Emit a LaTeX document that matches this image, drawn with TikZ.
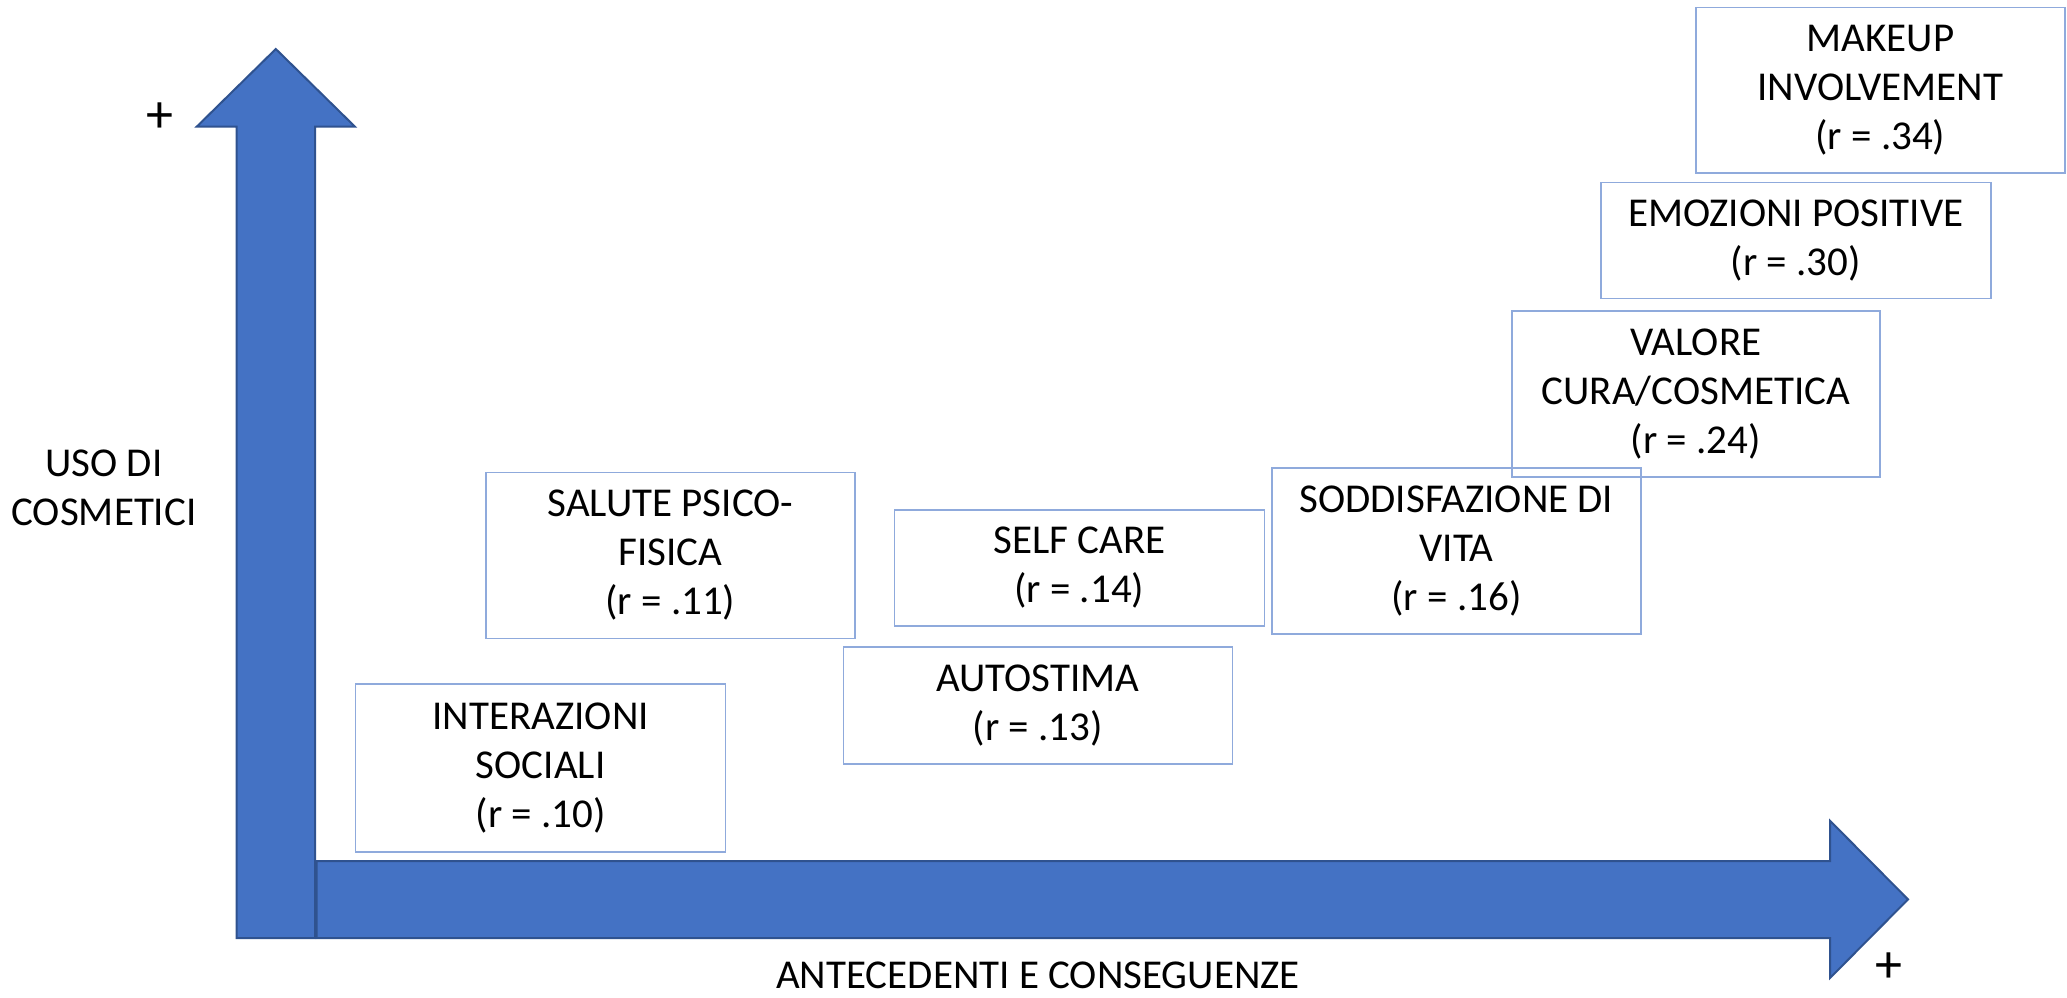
\documentclass[tikz,border=0pt]{standalone}
\usepackage{fontspec}
\setmainfont{Carlito}
\definecolor{boxblue}{HTML}{8FAADC}
\definecolor{arrowfill}{HTML}{4472C4}
\definecolor{arrowline}{HTML}{2F528F}
\begin{document}
\begin{tikzpicture}[x=1pt,y=-1pt,
  lbl/.style={font=\fontsize{41}{49}\selectfont, align=center, text=black, inner sep=0pt},
  plus/.style={font=\fontsize{54}{54}\selectfont, text=black, inner sep=0pt},
  item/.style={lbl, draw=boxblue, line width=1.5pt},
  bigarrow/.style={fill=arrowfill, draw=arrowline, line width=2pt, line join=miter}]
\useasboundingbox (0,0) rectangle (2067,998);
% vertical arrow
\draw[bigarrow] (275.8,49) -- (355,126.7) -- (315,126.7) -- (315,938) -- (236.7,938)
  -- (236.7,126.7) -- (196.7,126.7) -- cycle;
% horizontal arrow
\draw[bigarrow] (316.5,861) -- (1830,861) -- (1830,820.7) -- (1908,899.4) -- (1830,978)
  -- (1830,938) -- (316.5,938) -- cycle;
% axis labels
\node[plus] (plusy) at (160,118) {+};
\node[plus] (plusx) at (1889,968) {+};
\node[lbl] (ylab) at (104,488) {USO DI\\COSMETICI};
\node[lbl, anchor=base] (xlab) at (1038,988) {ANTECEDENTI E CONSEGUENZE};
% boxes
\node[item, minimum width=370pt, minimum height=167.7pt] (inter) at (540.7,767.9) {INTERAZIONI\\SOCIALI\\(r = .10)};
\node[item, minimum width=369.3pt, minimum height=166pt] (salute) at (670.4,555.3) {SALUTE PSICO-\\FISICA\\(r = .11)};
\node[item, minimum width=370pt, minimum height=116pt] (self) at (1079.3,568) {SELF CARE\\(r = .14)};
\node[item, minimum width=389pt, minimum height=117.3pt] (auto) at (1037.8,705.4) {AUTOSTIMA\\(r = .13)};
\node[item, minimum width=369pt, minimum height=166pt] (sodd) at (1456.5,551) {SODDISFAZIONE DI\\VITA\\(r = .16)};
\node[item, minimum width=368.3pt, minimum height=165.7pt] (valore) at (1695.9,393.9) {VALORE\\CURA/COSMETICA\\(r = .24)};
\node[item, minimum width=390.3pt, minimum height=116pt] (emoz) at (1795.9,240.3) {EMOZIONI POSITIVE\\(r = .30)};
\node[item, minimum width=369.3pt, minimum height=165.7pt] (makeup) at (1880.4,90.2) {MAKEUP\\INVOLVEMENT\\(r = .34)};
\end{tikzpicture}
\end{document}
